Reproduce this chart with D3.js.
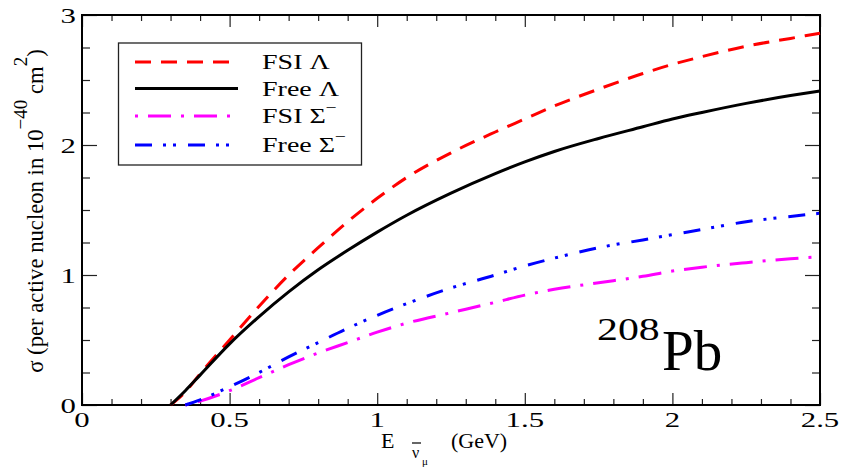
<!DOCTYPE html>
<html>
<head>
<meta charset="utf-8">
<script src="https://cdn.jsdelivr.net/npm/d3@7"></script>
<style>
  body { margin: 0; background: white; }
  text { font-family: "Liberation Serif", "Times New Roman", serif; fill: black; }
</style>
</head>
<body>
<svg id="chart" width="843" height="467"></svg>
<script>
// data
let energy = [0.3, 0.35, 0.4, 0.5, 0.6, 0.7, 0.8, 0.9, 1.0, 1.1, 1.25, 1.4, 1.5, 1.6, 1.75, 1.9, 2.0, 2.1, 2.25, 2.4, 2.5];
let fsiLambda = [0, 0.1, 0.24, 0.50, 0.76, 1.0, 1.21, 1.41, 1.59, 1.75, 1.94, 2.10, 2.20, 2.30, 2.43, 2.55, 2.62, 2.68, 2.76, 2.82, 2.86];
let freeLambda = [0, 0.11, 0.23, 0.47, 0.68, 0.87, 1.04, 1.19, 1.33, 1.46, 1.63, 1.78, 1.87, 1.95, 2.05, 2.14, 2.20, 2.25, 2.32, 2.38, 2.415];

let energySigma = [0.35, 0.4, 0.5, 0.6, 0.7, 0.8, 0.9, 1.0, 1.1, 1.25, 1.4, 1.5, 1.6, 1.75, 1.9, 2.0, 2.1, 2.25, 2.4, 2.5];
let fsiSigma = [0, 0.03, 0.11, 0.21, 0.31, 0.40, 0.48, 0.56, 0.63, 0.71, 0.79, 0.845, 0.89, 0.94, 0.99, 1.03, 1.06, 1.095, 1.125, 1.14];
let freeSigma = [0, 0.04, 0.14, 0.25, 0.37, 0.48, 0.59, 0.69, 0.78, 0.90, 1.00, 1.07, 1.13, 1.21, 1.27, 1.31, 1.35, 1.41, 1.45, 1.475];

let xTicks = [0, 0.5, 1, 1.5, 2, 2.5];
let yTicks = [0, 1, 2, 3];

let seriesNames = ["FSI \u039B", "Free \u039B", "FSI \u03A3", "Free \u03A3"];
let seriesColors = ["#ff0000", "#000000", "#ff00ff", "#0000ff"];
let seriesDash = ["16,10", null, "3,10,23,10", "17,11,3,7,3,12"];

// text in the picture is stretched sideways
var SX = 1.4;

var svg = d3.select("#chart");

var x = d3.scaleLinear().domain([0, 2.5]).range([82, 820]);
var y = d3.scaleLinear().domain([0, 3]).range([405, 15]);

var xMinor = d3.range(0, 26).map(i => i / 10).filter(v => Math.round(v * 10) % 5 != 0);
var yMinor = d3.range(0, 13).map(i => i / 4).filter(v => v % 1 != 0);

// ticks, all pointing inward
function tickAxis(axis, scale, vals, size, pos)
{
    var g = svg.append("g")
        .attr("transform", pos)
        .call(axis(scale).tickValues(vals).tickSizeInner(-size).tickSizeOuter(0).tickFormat(""));
    g.select(".domain").remove();
    g.selectAll("line").attr("stroke", "#222").attr("stroke-width", 1.2);
    g.selectAll("text").remove();
}

tickAxis(d3.axisBottom, x, xTicks, 12, "translate(0,405)");
tickAxis(d3.axisBottom, x, xMinor, 6, "translate(0,405)");
tickAxis(d3.axisTop, x, xTicks, 12, "translate(0,15)");
tickAxis(d3.axisTop, x, xMinor, 6, "translate(0,15)");
tickAxis(d3.axisLeft, y, yTicks, 15, "translate(82,0)");
tickAxis(d3.axisLeft, y, yMinor, 8, "translate(82,0)");
tickAxis(d3.axisRight, y, yTicks, 15, "translate(820,0)");
tickAxis(d3.axisRight, y, yMinor, 8, "translate(820,0)");

// frame
svg.append("rect")
    .attr("x", x(0)).attr("y", y(3))
    .attr("width", x(2.5) - x(0)).attr("height", y(0) - y(3))
    .attr("fill", "none").attr("stroke", "black").attr("stroke-width", 2);

// tick labels
svg.selectAll(".xlab")
    .data(xTicks)
    .enter().append("text")
    .attr("class", "xlab")
    .attr("text-anchor", "middle")
    .attr("font-size", 22)
    .attr("transform", d => "translate(" + x(d) + ",427) scale(" + SX + ",1)")
    .text(d => d3.format("")(d));

svg.selectAll(".ylab")
    .data(yTicks)
    .enter().append("text")
    .attr("class", "ylab")
    .attr("text-anchor", "end")
    .attr("font-size", 22)
    .attr("transform", d => "translate(76," + (y(d) + 7.5) + ") scale(" + SX + ",1)")
    .text(d => d);

// curves
var line = d3.line()
    .x(d => x(d[0]))
    .y(d => y(d[1]))
    .curve(d3.curveMonotoneX);

var curves = [
    d3.zip(energy, fsiLambda),
    d3.zip(energy, freeLambda),
    d3.zip(energySigma, fsiSigma),
    d3.zip(energySigma, freeSigma)
];

svg.selectAll(".curve")
    .data(curves)
    .enter().append("path")
    .attr("class", "curve")
    .attr("d", line)
    .attr("fill", "none")
    .attr("stroke", (d, i) => seriesColors[i])
    .attr("stroke-width", 3)
    .attr("stroke-dasharray", (d, i) => seriesDash[i]);

// legend
var legend = svg.append("g");
legend.append("rect")
    .attr("x", 118.5).attr("y", 43)
    .attr("width", 243).attr("height", 122)
    .attr("fill", "white").attr("stroke", "#222").attr("stroke-width", 1.3);

var rowY = [62, 88.5, 116, 145];
seriesNames.forEach(function(name, i)
{
    legend.append("line")
        .attr("x1", 135).attr("x2", 238)
        .attr("y1", rowY[i]).attr("y2", rowY[i])
        .attr("stroke", seriesColors[i])
        .attr("stroke-width", 3)
        .attr("stroke-dasharray", seriesDash[i]);
    var t = legend.append("text")
        .attr("font-size", 20)
        .attr("transform", "translate(262," + (rowY[i] + 7) + ") scale(" + SX + ",1)")
        .text(name);
    // sigma minus gets a raised bar
    if (i >= 2)
    {
        t.append("tspan").attr("dy", -11).attr("font-size", 14).text("\u2212");
    }
});

// nucleus label
svg.append("text")
    .attr("font-size", 31)
    .attr("transform", "translate(597,340) scale(1.35,1)")
    .text("208");
svg.append("text")
    .attr("font-size", 57)
    .attr("x", 662).attr("y", 370)
    .text("Pb");

// x axis title: E with anti-nu-mu subscript
var xt = svg.append("text").attr("font-size", 22).attr("x", 381).attr("y", 448);
xt.append("tspan").text("E");
xt.append("tspan").attr("x", 412).attr("y", 458).attr("font-size", 16).text("\u03BD");
xt.append("tspan").attr("x", 422).attr("y", 465).attr("font-size", 11).text("\u03BC");
xt.append("tspan").attr("x", 451).attr("y", 448).text("(GeV)");
// bar over the nu
svg.append("line")
    .attr("x1", 412).attr("x2", 421)
    .attr("y1", 443).attr("y2", 443)
    .attr("stroke", "black").attr("stroke-width", 1.2);

// y axis title
var yt = svg.append("text")
    .attr("font-size", 22.7)
    .attr("text-anchor", "middle")
    .attr("transform", "translate(43,211) rotate(-90)");
yt.append("tspan").text("\u03C3 (per active nucleon in 10");
yt.append("tspan").attr("dy", -16).attr("font-size", 19).text("\u221240");
yt.append("tspan").attr("dy", 16).text(" cm");
yt.append("tspan").attr("dy", -16).attr("font-size", 19).text("2");
yt.append("tspan").attr("dy", 16).text(")");
</script>
</body>
</html>
